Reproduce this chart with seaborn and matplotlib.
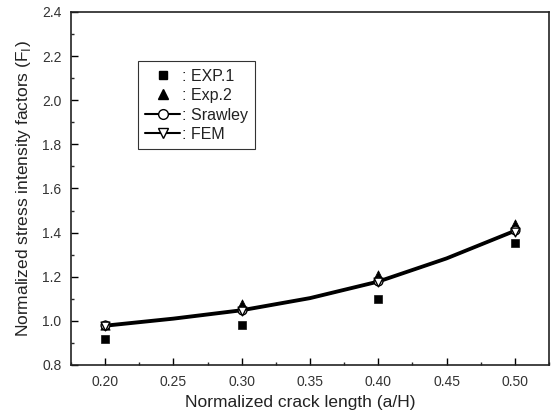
import matplotlib
matplotlib.use("Agg")
import matplotlib.pyplot as plt
from matplotlib.lines import Line2D
from matplotlib.ticker import MultipleLocator
import seaborn as sns
import pandas as pd

# data
crack_ratio = [0.20, 0.30, 0.40, 0.50]
exp1 = [0.92, 0.98, 1.10, 1.355]
exp2 = [0.98, 1.075, 1.21, 1.44]
srawley = [0.98, 1.05, 1.18, 1.41]
fem = [0.975, 1.045, 1.175, 1.405]

curve_x = [0.20, 0.25, 0.30, 0.35, 0.40, 0.45, 0.50]
srawley_curve = [0.98, 1.012, 1.05, 1.105, 1.18, 1.285, 1.41]
fem_curve = [0.975, 1.007, 1.045, 1.100, 1.175, 1.280, 1.405]

sns.set_style("white")
plt.rcParams['font.family'] = ['Liberation Sans', 'DejaVu Sans']

fig = plt.figure(figsize=(5.52, 4.18), dpi=100)
ax = fig.add_axes([0.1286, 0.1268, 0.8660, 0.8445])

curves = pd.DataFrame({"x": curve_x, "Srawley": srawley_curve, "FEM": fem_curve})
pts = pd.DataFrame({"x": crack_ratio, "EXP.1": exp1, "Exp.2": exp2,
                    "Srawley": srawley, "FEM": fem})

sns.lineplot(data=curves, x="x", y="Srawley", ax=ax, color="black", lw=2.2, zorder=2)
sns.lineplot(data=curves, x="x", y="FEM", ax=ax, color="black", lw=1.8, zorder=2)
sns.scatterplot(data=pts, x="x", y="EXP.1", ax=ax, marker="s", s=30, color="black",
                edgecolor="black", zorder=4)
sns.scatterplot(data=pts, x="x", y="Exp.2", ax=ax, marker="^", s=45, color="black",
                edgecolor="black", zorder=3)
sns.scatterplot(data=pts, x="x", y="Srawley", ax=ax, marker="o", s=40, color="white",
                edgecolor="black", linewidth=1.0, zorder=4)
sns.scatterplot(data=pts, x="x", y="FEM", ax=ax, marker="v", s=40, color="white",
                edgecolor="black", linewidth=1.0, zorder=5)

ax.set_xlim(0.175, 0.525)
ax.set_ylim(0.8, 2.4)
ax.set_xticks([0.20, 0.25, 0.30, 0.35, 0.40, 0.45, 0.50])
ax.set_xticklabels(["0.20", "0.25", "0.30", "0.35", "0.40", "0.45", "0.50"])
ax.set_yticks([0.8, 1.0, 1.2, 1.4, 1.6, 1.8, 2.0, 2.2, 2.4])
ax.set_yticklabels(["0.8", "1.0", "1.2", "1.4", "1.6", "1.8", "2.0", "2.2", "2.4"])
ax.xaxis.set_minor_locator(MultipleLocator(0.025))
ax.yaxis.set_minor_locator(MultipleLocator(0.1))
ax.tick_params(axis="both", which="major", direction="in", length=5, width=1,
               labelsize=10, colors="black", pad=7, bottom=True, left=True)
ax.tick_params(axis="both", which="minor", direction="in", length=2.5, width=1,
               bottom=True, left=True)
for t in ax.get_xticklabels() + ax.get_yticklabels():
    t.set_color("#333333")
for sp in ax.spines.values():
    sp.set_color("#222222")
    sp.set_linewidth(1.2)

ax.set_xlabel("Normalized crack length (a/H)", fontsize=12.5, color="#222222")
ax.xaxis.set_label_coords(0.48, -0.085)
ax.set_ylabel("Normalized stress intensity factors (F$_{\\rm I}$)", fontsize=12.5,
              color="#222222", labelpad=6)

handles = [
    Line2D([], [], ls="none", marker="s", color="black", ms=6),
    Line2D([], [], ls="none", marker="^", color="black", ms=7),
    Line2D([], [], color="black", lw=1.5, marker="o", mfc="white", mec="black", ms=7),
    Line2D([], [], color="black", lw=1.5, marker="v", mfc="white", mec="black", ms=7),
]
labels = [": EXP.1", ": Exp.2", ": Srawley", ": FEM"]
leg = ax.legend(handles, labels, loc="upper left", bbox_to_anchor=(0.14, 0.86),
                frameon=True, fancybox=False, edgecolor="black", fontsize=11.5,
                handlelength=2.2, handletextpad=0.1, labelspacing=0.28,
                borderpad=0.45, borderaxespad=0)
leg.get_frame().set_linewidth(0.8)
for t in leg.get_texts():
    t.set_color("#222222")

fig.savefig("out.png", dpi=100)
